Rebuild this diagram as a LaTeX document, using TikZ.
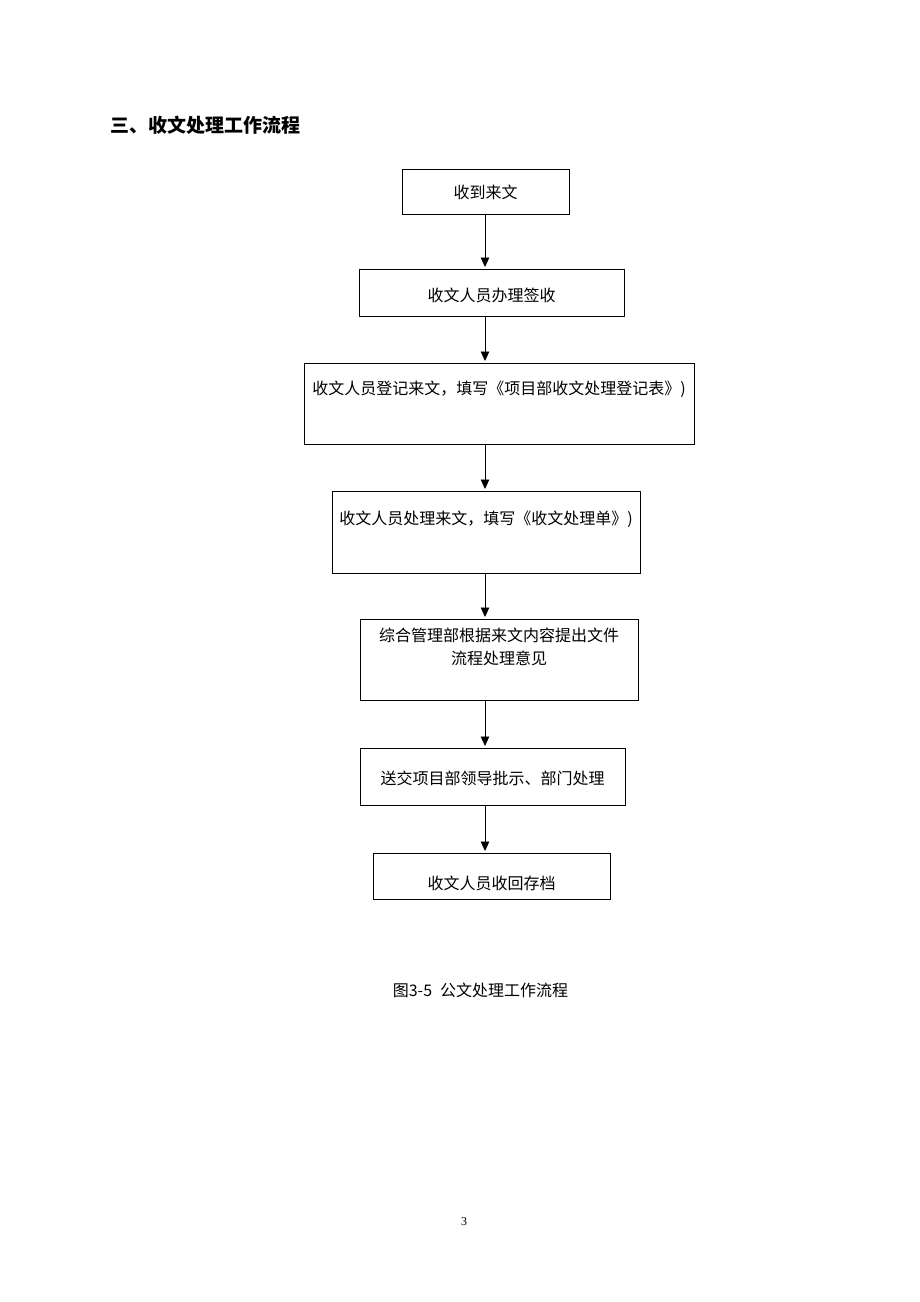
\documentclass[tikz,border=0pt]{standalone}
\usepackage{fontspec}
\setmainfont{Liberation Serif}
\newfontfamily\cjk{Noto Sans CJK SC}
\usetikzlibrary{positioning,arrows.meta}

\begin{document}
\begin{tikzpicture}[
    x=1pt, y=-1pt,
    node distance=47pt,
    font=\cjk\fontsize{16}{19}\selectfont,
    text centered,
    procbox/.style={
      draw,
      line width=0.9pt,
      outer sep=0,
      inner ysep=0,
      inner xsep=2pt
    },
    flowarrow/.style={
      line width=0.9pt,
      -{Triangle[width=8.5pt,length=9.5pt]},
      shorten >=2pt
    }
  ]

  \useasboundingbox (0,0) rectangle (920,1302);

  \node [anchor=west, inner sep=0, font=\cjk\bfseries\fontsize{19}{23}\selectfont] (title) at (110,125) {三、收文处理工作流程};

  \coordinate (axis) at (485,0);

  \node [procbox] (recv) at (485.5,191.5) [minimum width=167pt, text height=29.5pt, text depth=15.5pt] {收到来文};

  \node [procbox] (sign) [below=55pt of recv, xshift=6pt, minimum width=265pt, text height=32pt, text depth=15pt] {收文人员办理签收};

  \node [procbox] (register) [below=of sign, xshift=7.5pt, minimum width=390pt, text height=31pt, text depth=50pt] {收文人员登记来文，填写《项目部收文处理登记表》)};

  \node [procbox] (handle) [below=of register, xshift=-13pt, minimum width=308pt, text height=33pt, text depth=49pt] {收文人员处理来文，填写《收文处理单》)};

  \node [procbox] (opinion) [below=46pt of handle, xshift=13pt, minimum width=278pt, text height=22pt, text depth=59pt] {\begin{tabular}[t]{@{}c@{}}综合管理部根据来文内容提出文件\\[4pt]流程处理意见\end{tabular}};

  \node [procbox] (approve) [below=48pt of opinion, xshift=-6.5pt, minimum width=265pt, text height=36pt, text depth=21pt] {送交项目部领导批示、部门处理};

  \node [procbox] (archive) [below=48pt of approve, xshift=-1pt, minimum width=237pt, text height=36pt, text depth=10pt] {收文人员收回存档};

  % connectors
  \draw [flowarrow] (recv.south -| axis) -- (sign.north -| axis);
  \draw [flowarrow] (sign.south -| axis) -- (register.north -| axis);
  \draw [flowarrow] (register.south -| axis) -- (handle.north -| axis);
  \draw [flowarrow] (handle.south -| axis) -- (opinion.north -| axis);
  \draw [flowarrow] (opinion.south -| axis) -- (approve.north -| axis);
  \draw [flowarrow] (approve.south -| axis) -- (archive.north -| axis);

  \node (caption) at (480.5,990) [font=\cjk\fontsize{16}{19}\selectfont] {图3-5\hspace{8pt}公文处理工作流程};

  \node (pagenum) at (464,1222) [font=\fontsize{12}{14}\selectfont] {3};

\end{tikzpicture}
\end{document}
